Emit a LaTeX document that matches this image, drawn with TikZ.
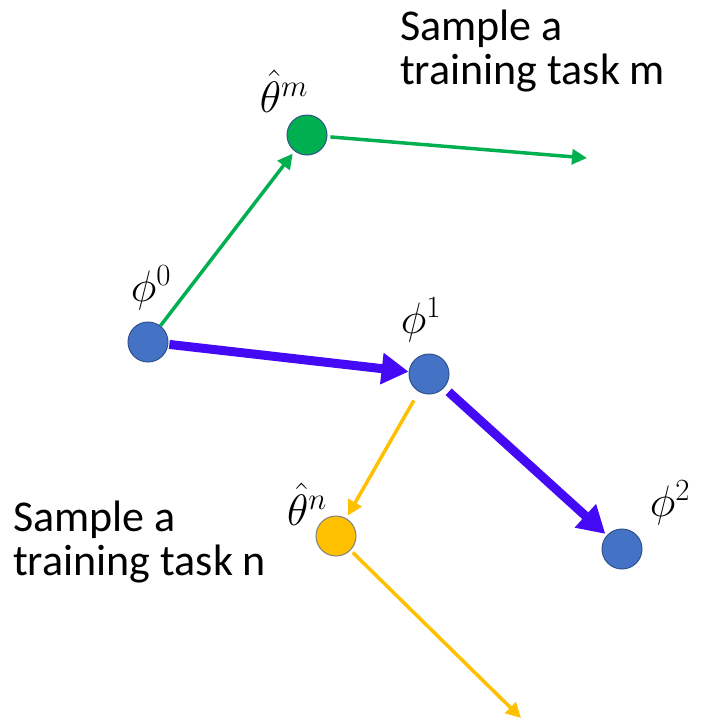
\documentclass[tikz,border=0pt]{standalone}
\usepackage{fix-cm}
\usepackage{fontspec}
\setmainfont{Carlito}
\usetikzlibrary{arrows.meta,positioning}
\definecolor{dotblue}{RGB}{68,114,196}
\definecolor{dotedge}{RGB}{47,82,143}
\definecolor{stepblue}{RGB}{68,10,245}
\definecolor{taskgreen}{RGB}{0,176,80}
\definecolor{taskyellow}{RGB}{255,192,0}

\begin{document}
\begin{tikzpicture}[x = 1pt, y = -1pt,
  dot/.style={circle,draw=dotedge,line width=1pt,minimum size=40pt,inner sep=0pt},
  sym/.style={font=\fontsize{44}{50}\selectfont},
  note/.style={align=left,anchor=north west,inner sep=0pt,font=\fontsize{44}{44}\selectfont},
  bigstep/.style={-{Triangle[length=27pt,width=30pt]},line width=9pt,draw=stepblue},
  taskstep/.style={-{Triangle[length=15pt,width=15pt]},line width=3.5pt}]
\useasboundingbox (0,0) rectangle (702,721);
\node[dot,fill=dotblue] (phi0) at (148,342) {};
\node[dot,fill=dotblue] (phi1) at (429,374) {};
\node[dot,fill=dotblue] (phi2) at (622,549) {};
\node[dot,fill=taskgreen] (thetam) at (307,135) {};
\node[dot,fill=taskyellow,draw=gray] (thetan) at (336,536) {};
\coordinate (endm) at (587,158);
\coordinate (endn) at (521,718);
\node[sym] (lphi0) at (151,288) {$\phi^0$};
\node[sym] (lphi1) at (421,320) {$\phi^1$};
\node[sym] (lphi2) at (670,503) {$\phi^2$};
\node[sym] (lthetam) at (284,91) {$\hat\theta^m$};
\node[sym] (lthetan) at (307,504) {$\hat\theta^n$};
\node[note] (taskm) at (400,10) {Sample a\\training task m};
\node[note] (taskn) at (13,501) {Sample a\\training task n};
\draw[taskstep,taskgreen,shorten >=3pt] (phi0) -- (thetam);
\draw[taskstep,taskgreen,shorten <=3pt] (thetam) -- (endm);
\draw[bigstep,shorten <=1pt] (phi0) -- (phi1);
\draw[bigstep,shorten <=6pt,shorten >=2pt] (phi1) -- (phi2);
\draw[taskstep,taskyellow,shorten <=10pt,shorten >=3pt] (phi1) -- (thetan);
\draw[taskstep,taskyellow,shorten <=3pt] (thetan) -- (endn);
\end{tikzpicture}
\end{document}
